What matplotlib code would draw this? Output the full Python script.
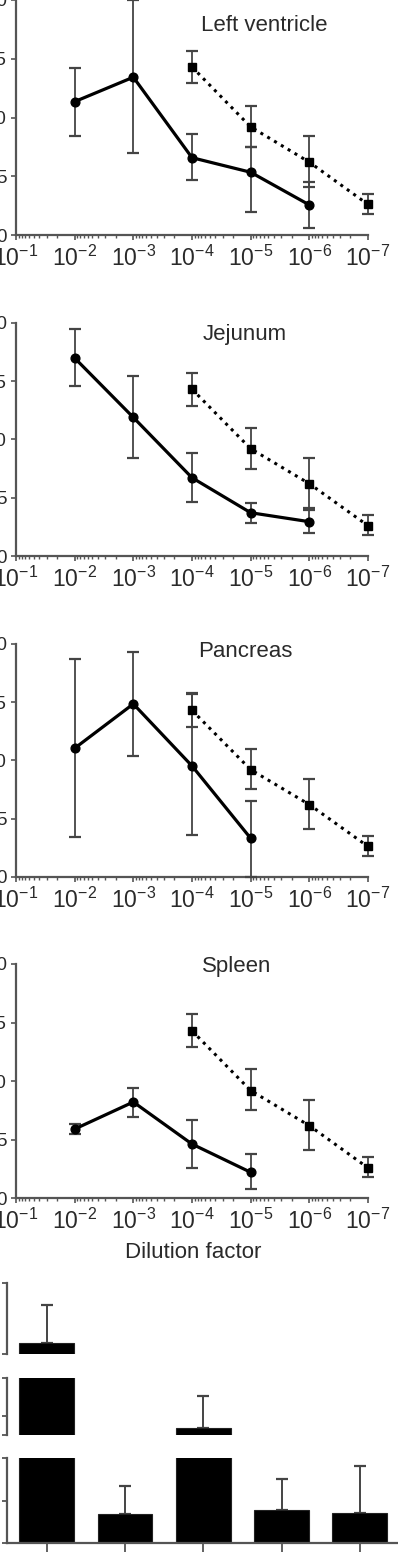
import numpy as np
import matplotlib
matplotlib.use('Agg')
import matplotlib.pyplot as plt
from matplotlib.ticker import LogLocator, NullFormatter, FixedLocator, FixedFormatter

plt.rcParams['font.family'] = ['Liberation Sans', 'DejaVu Sans']
plt.rcParams['mathtext.fontset'] = 'custom'
plt.rcParams['mathtext.rm'] = 'Liberation Sans'
plt.rcParams['mathtext.it'] = 'Liberation Sans:italic'
plt.rcParams['mathtext.bf'] = 'Liberation Sans:bold'

# ---------------- data ----------------
dil_ticks = [1e-1, 1e-2, 1e-3, 1e-4, 1e-5, 1e-6, 1e-7]
dil_labels = [r'$\mathregular{10^{-1}}$', r'$\mathregular{10^{-2}}$', r'$\mathregular{10^{-3}}$',
              r'$\mathregular{10^{-4}}$', r'$\mathregular{10^{-5}}$', r'$\mathregular{10^{-6}}$',
              r'$\mathregular{10^{-7}}$']
y_ticks = [0, 5, 10, 15, 20]
y_labels = ['0', '5', '10', '15', '20']

# reference (dotted, squares) series - same in each panel
ref_x = [1e-4, 1e-5, 1e-6, 1e-7]
ref_y = [14.3, 9.2, 6.2, 2.6]
ref_lo = [12.9, 7.5, 4.1, 1.8]
ref_hi = [15.7, 11.0, 8.4, 3.5]

titles = ['Left ventricle', 'Jejunum', 'Pancreas', 'Spleen']

lv_x = [1e-2, 1e-3, 1e-4, 1e-5, 1e-6]
lv_y = [11.35, 13.43, 6.58, 5.34, 2.56]
lv_hi = [14.25, 20.0, 8.58, 7.47, 4.54]
lv_lo = [8.43, 6.96, 4.66, 1.99, 0.57]

je_x = [1e-2, 1e-3, 1e-4, 1e-5, 1e-6]
je_y = [16.97, 11.88, 6.71, 3.71, 2.94]
je_hi = [19.43, 15.42, 8.85, 4.57, 3.94]
je_lo = [14.57, 8.42, 4.63, 2.85, 2.0]

pa_x = [1e-2, 1e-3, 1e-4, 1e-5]
pa_y = [11.04, 14.85, 9.52, 3.3]
pa_hi = [18.7, 19.3, 15.77, 6.51]
pa_lo = [3.44, 10.4, 3.61, 0.0]

sp_x = [1e-2, 1e-3, 1e-4, 1e-5]
sp_y = [5.91, 8.22, 4.63, 2.22]
sp_hi = [6.34, 9.44, 6.68, 3.78]
sp_lo = [5.46, 6.96, 2.61, 0.77]

# bar chart (broken axis)
bar_pos = [0, 1, 2, 3, 4]
bar_vals = [11.6, 0.685, 2.69, 0.78, 0.71]
bar_err_top = [16.9, 1.34, 3.53, 1.50, 1.81]

# ---------------- layout ----------------
W, H = 398, 1552
fig = plt.figure(figsize=(W / 100, H / 100), dpi=100)


def rect(l, t, r, b):
    return [l / W, 1 - b / H, (r - l) / W, (b - t) / H]


SPINE = '#555555'
TXT = '#2a2a2a'
panel_px = [(0, 235), (322.7, 556), (644, 876.7), (964, 1198.3)]
title_px = [(264, 31), (245, 340), (245, 657.3), (237, 971.7)]
series = [(lv_x, lv_y, lv_lo, lv_hi), (je_x, je_y, je_lo, je_hi),
          (pa_x, pa_y, pa_lo, pa_hi), (sp_x, sp_y, sp_lo, sp_hi)]


def errbar(ax, x, y, lo, hi, fmt, ls, lw, ms):
    y = np.array(y)
    yerr = [y - np.array(lo), np.array(hi) - y]
    cont = ax.errorbar(x, y, yerr=yerr, fmt=fmt, color='black', ecolor='#444444',
                       elinewidth=1.3, capsize=4, capthick=1.6, ms=ms, lw=lw,
                       linestyle=ls, clip_on=False, zorder=3)
    for cap in cont[1]:
        cap.set_color('#111111')
        cap.set_clip_on(False)
    for col in cont[2]:
        col.set_clip_on(False)
    cont[0].set_clip_on(False)
    return cont


for i, ((top, bot), title, (tx, ty), (sx, sy, slo, shi)) in enumerate(
        zip(panel_px, titles, title_px, series)):
    ax = fig.add_axes(rect(16, top, 368, bot))
    ax.set_xscale('log')
    ax.set_xlim(1e-1, 1e-7)
    ax.set_ylim(0, 20)
    for s in ['top', 'right']:
        ax.spines[s].set_visible(False)
    for s in ['left', 'bottom']:
        ax.spines[s].set_color(SPINE)
        ax.spines[s].set_linewidth(1.6)
    ax.xaxis.set_major_locator(FixedLocator(dil_ticks))
    ax.xaxis.set_major_formatter(FixedFormatter(dil_labels))
    ax.xaxis.set_minor_locator(LogLocator(base=10, subs=np.arange(2, 10), numticks=50))
    ax.xaxis.set_minor_formatter(NullFormatter())
    ax.set_yticks(y_ticks)
    ax.set_yticklabels(y_labels)
    ax.tick_params(axis='x', which='major', length=3.6, width=1.2, color=SPINE,
                   pad=4, labelsize=16.5, labelcolor=TXT)
    ax.tick_params(axis='x', which='minor', length=2.2, width=1.0, color=SPINE)
    ax.tick_params(axis='y', which='major', length=3.6, width=1.2, color=SPINE,
                   pad=2.9, labelsize=13.5, labelcolor=TXT)
    ax.patch.set_alpha(0)

    errbar(ax, ref_x, ref_y, ref_lo, ref_hi, 's', (0, (1, 1.6)), 2.2, 6)
    errbar(ax, sx, sy, slo, shi, 'o', '-', 2.3, 6.3)

    fig.text(tx / W, 1 - ty / H, title, ha='center', va='baseline', fontsize=16,
             color=TXT)

fig.text(193 / W, 1 - 1258 / H, 'Dilution factor', ha='center', va='baseline',
         fontsize=16, color=TXT)

# ---------------- broken-axis bar chart ----------------
seg_px = [(1283.3, 1354), (1377.7, 1435), (1457.7, 1543.3)]
seg_lim = [(10, 20), (2.5, 4), (0, 2)]
seg_ticks = [[10, 20], [2.5, 3, 4], [0, 1, 2]]
for j, ((top, bot), lim, ticks) in enumerate(zip(seg_px, seg_lim, seg_ticks)):
    ax = fig.add_axes(rect(7, top, 398, bot))
    ax.set_xlim(-0.507, 4.487)
    ax.set_ylim(*lim)
    ax.patch.set_alpha(0)
    for s in ['top', 'right']:
        ax.spines[s].set_visible(False)
    ax.spines['left'].set_color(SPINE)
    ax.spines['left'].set_linewidth(1.6)
    if j < 2:
        ax.spines['bottom'].set_visible(False)
        ax.set_xticks([])
    else:
        ax.spines['bottom'].set_color(SPINE)
        ax.spines['bottom'].set_linewidth(1.6)
        ax.set_xticks(bar_pos)
        ax.set_xticklabels([''] * len(bar_pos))
        ax.tick_params(axis='x', length=8, width=1.3, color=SPINE)
    ax.set_yticks(ticks)
    ax.set_yticklabels([''] * len(ticks))
    ax.tick_params(axis='y', length=3.6, width=1.3, color=SPINE)
    vals = np.array(bar_vals)
    errs = np.array(bar_err_top) - vals
    cont = ax.errorbar(bar_pos, vals, yerr=[np.zeros_like(errs), errs], fmt='none',
                       ecolor='#444444', elinewidth=1.4, capsize=4, capthick=1.6,
                       zorder=1)
    for cap in cont[1]:
        cap.set_color('#111111')
    ax.bar(bar_pos, vals, width=0.7, color='black', edgecolor='#222222', lw=0.8,
           zorder=2)

fig.savefig('out.png', dpi=100)
